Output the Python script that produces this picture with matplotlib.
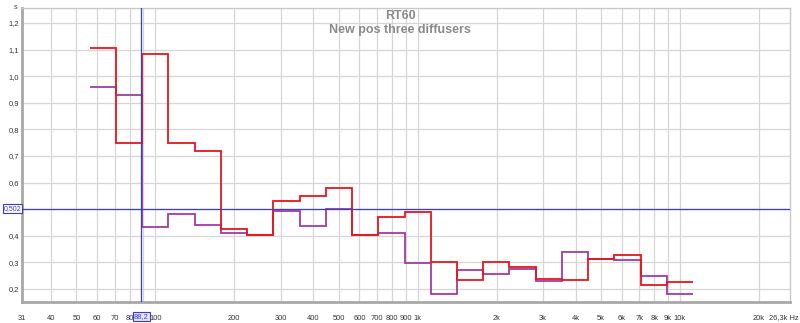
import numpy as np
import matplotlib
matplotlib.use("Agg")
import matplotlib.pyplot as plt

# 1/3-octave band centres (Hz)
bands = [63, 80, 100, 125, 160, 200, 250, 315, 400, 500, 630, 800, 1000,
         1250, 1600, 2000, 2500, 3150, 4000, 5000, 6300, 8000, 10000]
rt60_red = [1.107, 0.748, 1.083, 0.748, 0.719, 0.426, 0.403, 0.531, 0.548,
            0.579, 0.403, 0.471, 0.491, 0.300, 0.233, 0.303, 0.284, 0.238,
            0.234, 0.313, 0.327, 0.215, 0.225]
rt60_purple = [0.958, 0.928, 0.434, 0.481, 0.441, 0.410, 0.403, 0.493, 0.438,
               0.502, 0.403, 0.410, 0.297, 0.182, 0.273, 0.255, 0.275, 0.231,
               0.339, 0.313, 0.308, 0.250, 0.181]
cursor_freq = 88.2
cursor_val = 0.502

xticks = [31, 40, 50, 60, 70, 80, 100, 200, 300, 400, 500, 600, 700, 800, 900,
          1000, 2000, 3000, 4000, 5000, 6000, 7000, 8000, 9000, 10000, 20000]
xticklabels = ["31", "40", "50", "60", "70", "80", "100", "200", "300", "400",
               "500", "600", "700", "800", "900", "1k", "2k", "3k", "4k", "5k",
               "6k", "7k", "8k", "9k", "10k", "20k"]
x_end_label = "26,3k Hz"
yticks = [0.2, 0.3, 0.4, 0.5, 0.6, 0.7, 0.8, 0.9, 1.0, 1.1, 1.2]
yticklabels = ["0,2", "0,3", "0,4", "0,5", "0,6", "0,7", "0,8", "0,9", "1,0", "1,1", "1,2"]

plt.rcParams["font.family"] = ["Liberation Sans", "DejaVu Sans"]

# band edges from exact third-octave indices
idx = np.round(10 * np.log10(np.array(bands) / 1000.0))
edges = 1000.0 * 10 ** ((np.append(idx - 0.5, idx[-1] + 0.5)) / 10.0)

fig = plt.figure(figsize=(8.0, 3.23), dpi=100)
ax = fig.add_axes([0.0275, 0.065, 0.96, 0.910])
ax.set_xscale("log")
ax.set_xlim(31, 26300)
ax.set_ylim(0.151, 1.256)

grid_c = "#d6d6d6"
for x in xticks[1:] + [90]:
    ax.axvline(x, color=grid_c, lw=0.9, zorder=0)
for y in yticks:
    ax.axhline(y, color=grid_c, lw=0.9, zorder=0)

ax.stairs(rt60_purple, edges, baseline=None, color="#a23aa0", lw=1.3, zorder=2)
ax.stairs(rt60_red, edges, baseline=None, color="#e8161c", lw=1.3, zorder=3)

cur_c = "#3a3ad8"
ax.axvline(cursor_freq, color=cur_c, lw=0.9, zorder=4)
ax.axhline(cursor_val, color=cur_c, lw=0.9, zorder=4)

ax.set_xticks(xticks)
ax.set_xticklabels(xticklabels)
ax.xaxis.set_minor_locator(matplotlib.ticker.NullLocator())
ax.set_yticks(yticks)
ax.set_yticklabels(yticklabels)
ax.tick_params(axis="x", length=0, labelsize=5.4, colors="#333333", pad=9)
ax.tick_params(axis="y", length=0, labelsize=5.4, colors="#333333", pad=2)

for side in ["top", "right"]:
    ax.spines[side].set_color("#c8c8c8")
    ax.spines[side].set_linewidth(1.0)
for side in ["left", "bottom"]:
    ax.spines[side].set_color("#a8a8a8")
    ax.spines[side].set_linewidth(2.0)

# x-axis end label
fig.text(0.998, 0.016, x_end_label, fontsize=5.4, color="#333333", ha="right", va="center")

# cursor labels
ax.text(cursor_freq, -0.05, "88,2", transform=ax.get_xaxis_transform(),
        ha="center", va="center", fontsize=5.4, color=cur_c,
        bbox=dict(boxstyle="square,pad=0.15", fc="#e6e6ff", ec=cur_c, lw=0.8), zorder=6,
        clip_on=False)
fig.text(0.0155, ax.transData.transform((1, cursor_val))[1] / fig.bbox.height, "0,502",
         ha="center", va="center", fontsize=5, color=cur_c,
         bbox=dict(boxstyle="square,pad=0.12", fc="white", ec=cur_c, lw=0.8), zorder=6)

fig.text(0.019, 0.987, "s", fontsize=5, color="#444444", ha="center", va="top")
fig.text(0.5, 0.952, "RT60", fontsize=9, color="#8a8a8a", ha="center", va="center",
         fontweight="bold")
fig.text(0.5, 0.908, "New pos three diffusers", fontsize=9, color="#8a8a8a",
         ha="center", va="center", fontweight="bold")

fig.savefig("out.png", dpi=100, facecolor="white")
